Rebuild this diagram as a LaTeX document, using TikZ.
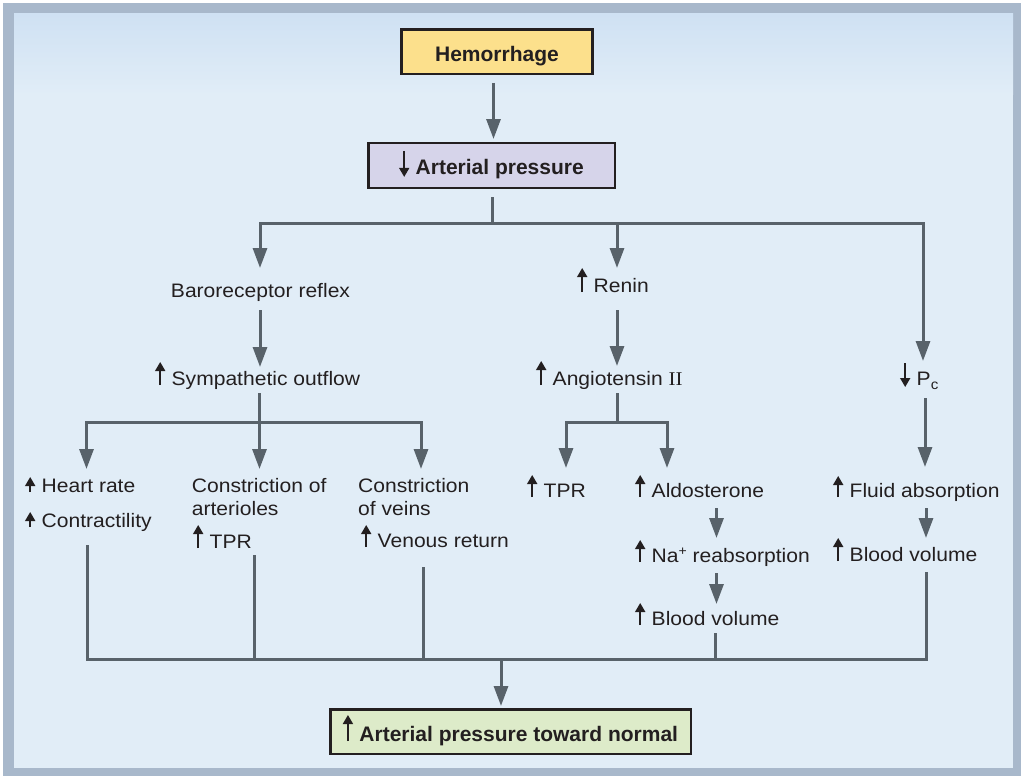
\documentclass[tikz,border=0pt]{standalone}
\usepackage{fontspec}
\setmainfont{Liberation Sans}
\newfontfamily\regfont{Liberation Sans}[FakeStretch=1.08]
\newfontfamily\romfont{Liberation Serif}[FakeStretch=1.08]
\usetikzlibrary{arrows.meta}

\definecolor{ink}{HTML}{231F20}
\definecolor{wirec}{HTML}{58626A}
\definecolor{framec}{HTML}{A8B8CB}
\definecolor{panel}{HTML}{E1EDF7}
\definecolor{paneltop}{HTML}{CFE1F3}
\definecolor{hemfill}{HTML}{FCE08C}
\definecolor{apfill}{HTML}{D6D4EA}
\definecolor{endfill}{HTML}{DDEBC9}

% small inline up / down arrows set before a label
\newcommand\upa[1][22]{\tikz[baseline=0pt]{\useasboundingbox (-5pt,0pt) rectangle (5pt,1pt);
  \draw[ink, line width=1.7pt, -{Triangle[width=10pt,length=9pt]}] (0pt,0pt) -- (0pt,#1pt);}\hspace{6.5pt}}
\newcommand\dna[1][23]{\tikz[baseline=0pt]{\useasboundingbox (-5pt,0pt) rectangle (5pt,1pt);
  \draw[ink, line width=1.7pt, -{Triangle[width=10pt,length=9pt]}] (0pt,{#1pt-2pt}) -- (0pt,-2pt);}\hspace{6.5pt}}

\tikzset{
  wire/.style={draw=wirec, line width=3pt},
  arr/.style={wire, -{Triangle[width=14pt,length=20pt]}},
  arr2/.style={wire, {Triangle[width=14pt,length=20pt]}-{Triangle[width=14pt,length=20pt]}},
  box/.style={draw=ink, line width=2.5pt, inner sep=0pt, text=ink,
    text height=23pt, text depth=4pt,
    font=\bfseries\fontsize{21}{25}\selectfont},
  lbl/.style={inner sep=0pt, anchor=base west, text=ink, align=left,
    font=\regfont\fontsize{19.5}{22.7}\selectfont},
}

\begin{document}
\begin{tikzpicture}[x=1pt,y=-1pt,line join=miter]
\useasboundingbox (0,0) rectangle (1021,776);
% panel and frame
\fill[white] (0,0) rectangle (1021,776);
\fill[framec] (3,3) rectangle (1021,776);
\fill[panel] (14,14) rectangle (1013,768);
\shade[top color=paneltop, bottom color=panel] (14,14) rectangle (1013,95);

% boxes
\node[box, fill=hemfill, minimum width=191pt, minimum height=44.5pt] (hem) at (497,52) {Hemorrhage};
\node[box, fill=apfill, minimum width=246.5pt, minimum height=45pt] (ap) at (491.5,165.4) {\dna[26]Arterial pressure};
\node[box, fill=endfill, minimum width=360.5pt, minimum height=44.5pt] (end) at (510.5,731.5) {\upa[26]Arterial pressure toward normal};

% labels
\node[lbl, anchor=base] (baro) at (260.5,297) {Baroreceptor reflex};
\node[lbl] (sym) at (155,385) {\upa[23]Sympathetic outflow};
\node[lbl] (renin) at (577,292) {\upa[24]Renin};
\node[lbl] (angio) at (536,385) {\upa[24]Angiotensin {\romfont II}};
\node[lbl] (pc) at (900,385) {\dna[24]P\raisebox{-4pt}{\fontsize{14}{14}\selectfont c}};

\node[lbl] (hr) at (25,492) {\upa[15]Heart rate};
\node[lbl] (contr) at (25,527) {\upa[15]Contractility};
\node[lbl] (arter) at (191.7,515) {Constriction of\\arterioles};
\node[lbl] (tpra) at (193,548) {\upa[23]TPR};
\node[lbl] (veins) at (358,515) {Constriction\\of veins};
\node[lbl] (venous) at (361,547) {\upa[22]Venous return};

\node[lbl] (tprb) at (527,497) {\upa[22]TPR};
\node[lbl] (aldo) at (635,497) {\upa[22]Aldosterone};
\node[lbl] (na) at (635,562) {\upa[22]Na\raisebox{7pt}{\fontsize{13}{13}\selectfont +} reabsorption};
\node[lbl] (bva) at (635,625) {\upa[22]Blood volume};

\node[lbl] (fluid) at (833,497) {\upa[21]Fluid absorption};
\node[lbl] (bvb) at (833,561) {\upa[23]Blood volume};

% junction points and arrow tips
\coordinate (hemout) at (493.5,83);
\coordinate (apin) at (493.5,139);
\coordinate (apout) at (492,197);
\coordinate (split) at (492,223.5);
\coordinate (baroin) at (260,268);
\coordinate (splitl) at (260,223.5);
\coordinate (splitr) at (923,223.5);
\coordinate (splitm) at (617,223.5);
\coordinate (reninin) at (617,268);
\coordinate (pcin) at (923,361);

\coordinate (baroout) at (260,310);
\coordinate (symin) at (260,367);
\coordinate (reninout) at (617,310);
\coordinate (angioin) at (617,366);

\coordinate (symout) at (259.5,393);
\coordinate (symsplit) at (259.5,422.3);
\coordinate (hrin) at (86.5,469);
\coordinate (hrsplit) at (86.5,422.3);
\coordinate (veinsplit) at (421,422.3);
\coordinate (veinsin) at (421,469);
\coordinate (arterin) at (259.5,469);

\coordinate (angioout) at (617,393);
\coordinate (angiosplit) at (617,422.3);
\coordinate (tprbsplit) at (566,422.3);
\coordinate (tprbin) at (566,468);
\coordinate (aldosplit) at (667,422.3);
\coordinate (aldoin) at (667,468);

\coordinate (pcout) at (925,398);
\coordinate (fluidin) at (925,467);
\coordinate (aldoout) at (716.5,508);
\coordinate (nain) at (716.5,538);
\coordinate (naout) at (716.5,573);
\coordinate (bvain) at (716.5,604);
\coordinate (fluidout) at (926,508);
\coordinate (bvbin) at (926,538);

\coordinate (controut) at (87,545);
\coordinate (tpraout) at (254,555);
\coordinate (venousout) at (423,567);
\coordinate (bvaout) at (715.5,633);
\coordinate (bvbout) at (926,572);
\coordinate (joinl) at (87,659);
\coordinate (joinr) at (926,659);
\coordinate (jointpra) at (254,659);
\coordinate (joinven) at (423,659);
\coordinate (joinbva) at (715.5,659);
\coordinate (joinm) at (501,659);
\coordinate (endin) at (501,706);

% connectors
\draw[arr] (hemout) -- (apin);
\draw[wire] (apout) -- (split);
\draw[arr2] (baroin) -- (splitl) -- (splitr) -- (pcin);
\draw[arr] (splitm) -- (reninin);
\draw[arr] (baroout) -- (symin);
\draw[arr] (reninout) -- (angioin);

\draw[wire] (symout) -- (symsplit);
\draw[arr2] (hrin) -- (hrsplit) -- (veinsplit) -- (veinsin);
\draw[arr] (symsplit) -- (arterin);

\draw[wire] (angioout) -- (angiosplit);
\draw[arr2] (tprbin) -- (tprbsplit) -- (aldosplit) -- (aldoin);

\draw[arr] (pcout) -- (fluidin);
\draw[arr] (aldoout) -- (nain);
\draw[arr] (naout) -- (bvain);
\draw[arr] (fluidout) -- (bvbin);

\draw[wire] (controut) -- (joinl) -- (joinr) -- (bvbout);
\draw[wire] (tpraout) -- (jointpra);
\draw[wire] (venousout) -- (joinven);
\draw[wire] (bvaout) -- (joinbva);
\draw[arr] (joinm) -- (endin);
\end{tikzpicture}
\end{document}
